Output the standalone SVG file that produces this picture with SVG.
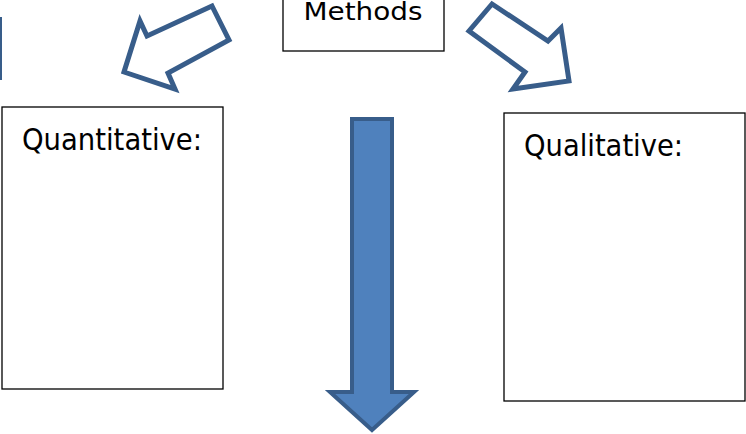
<svg xmlns="http://www.w3.org/2000/svg" width="746" height="434" viewBox="0 0 746 434">
<style>
.box{fill:#fff;stroke:#000;stroke-width:1.3}
.lbl{font-family:"DejaVu Sans Condensed","DejaVu Sans",sans-serif;fill:#000}
.hollow{fill:none;stroke:#385D8A;stroke-width:5;stroke-linejoin:miter}
.solid{fill:#4F81BD;stroke:#385D8A;stroke-width:4}
</style>
<rect x="0" y="17" width="2" height="63" fill="#385D8A"/>
<g id="methods">
<rect class="box" x="283" y="-5" width="161" height="56"/>
<text class="lbl" x="363" y="20" font-size="25" text-anchor="middle" textLength="119" lengthAdjust="spacingAndGlyphs">Methods</text>
</g>
<g id="quantitative">
<rect class="box" x="2" y="107" width="221" height="282"/>
<text class="lbl" x="22" y="150" font-size="30" textLength="180" lengthAdjust="spacingAndGlyphs">Quantitative:</text>
</g>
<g id="qualitative">
<rect class="box" x="504" y="113" width="241" height="288"/>
<text class="lbl" x="524" y="156" font-size="30" textLength="159" lengthAdjust="spacingAndGlyphs">Qualitative:</text>
</g>
<g id="connectors">
<polygon class="hollow" points="212,6 229,40 168,73 175,89 124,72 140,21 147,36"/>
<polygon class="hollow" points="492,4 469,31 525,72 513,89 569,81 561,28 548,41"/>
<polygon class="solid" points="352,119 392,119 392,392 414,392 372,430 330,392 352,392"/>
</g>
</svg>
